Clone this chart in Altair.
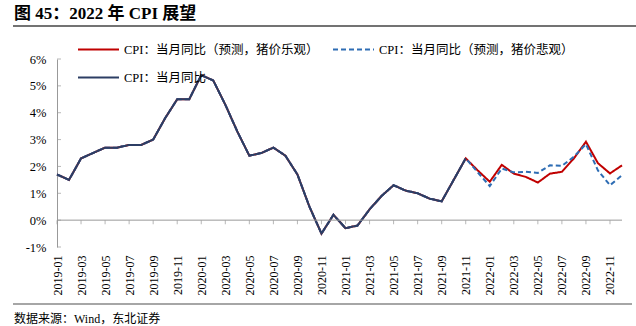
import altair as alt
import pandas as pd

months = [f"{y}-{m:02d}" for y in range(2019, 2023) for m in range(1, 13)]
tick_months = months[::2]

actual = [1.7, 1.5, 2.3, 2.5, 2.7, 2.7, 2.8, 2.8, 3.0, 3.8, 4.5, 4.5,
          5.4, 5.2, 4.3, 3.3, 2.4, 2.5, 2.7, 2.4, 1.7, 0.5, -0.5, 0.2,
          -0.3, -0.2, 0.4, 0.9, 1.3, 1.1, 1.0, 0.8, 0.7, 1.5, 2.3]
optimistic = [1.85, 1.43, 2.06, 1.73, 1.61, 1.40, 1.73, 1.80, 2.30, 2.92, 2.12, 1.74, 2.04]
pessimistic = [1.78, 1.27, 1.92, 1.78, 1.80, 1.76, 2.04, 2.02, 2.36, 2.83, 1.85, 1.30, 1.67]

s_opt = "CPI：当月同比（预测，猪价乐观）"
s_pes = "CPI：当月同比（预测，猪价悲观）"
s_act = "CPI：当月同比"
series_names = [s_opt, s_pes, s_act]
series_colors = ["#C00000", "#2E6DB4", "#2C3E64"]
series_dash = [[1, 0], [5, 3], [1, 0]]

y_values = [-1, 0, 1, 2, 3, 4, 5, 6]

title_text = "图 45：2022 年 CPI 展望"
source_text = "数据来源：Wind，东北证券"

FONT = "Liberation Serif, Noto Sans CJK SC"

rows = []
for name, tail in [(s_opt, optimistic), (s_pes, pessimistic), (s_act, [])]:
    vals = actual + tail
    for m, v in zip(months, vals):
        rows.append({"month": m, "value": v, "series": name})
df = pd.DataFrame(rows)

x_scale = alt.Scale(type="point", padding=0, domain=months)
y_scale = alt.Scale(domain=[-1, 6], nice=False)

legend = alt.Legend(
    title=None, orient="none", legendX=20, legendY=-31, columns=2, direction="horizontal",
    symbolType="stroke", symbolSize=1681, symbolStrokeWidth=2,
    labelFont=FONT, labelFontSize=12.5, labelColor="#000", labelOffset=4, labelLimit=400,
    columnPadding=10, rowPadding=-17,
)

x_axis = alt.Axis(values=tick_months, labelAngle=-90, domain=False, ticks=False,
                  labelPadding=8, title=None, labelFont=FONT, labelFontSize=12,
                  labelColor="#000", grid=False, labelOverlap=False)
y_axis = alt.Axis(values=y_values, labelExpr="datum.value + '%'", ticks=False,
                  grid=False, domainColor="#999", labelFont=FONT, labelFontSize=12.5,
                  labelColor="#000", labelPadding=11, title=None, labelOverlap=False)

enc = dict(
    x=alt.X("month:O", scale=x_scale, sort=months, axis=x_axis),
    y=alt.Y("value:Q", scale=y_scale, axis=y_axis),
    color=alt.Color("series:N", scale=alt.Scale(domain=series_names, range=series_colors),
                    legend=legend),
    strokeDash=alt.StrokeDash("series:N", scale=alt.Scale(domain=series_names, range=series_dash),
                              legend=legend),
)

base = alt.Chart(df)
lines = [
    base.transform_filter(alt.datum.series == n).mark_line(strokeWidth=2).encode(**enc)
    for n in series_names
]

zero = alt.Chart(pd.DataFrame({"z": [0]})).mark_rule(color="#999", strokeWidth=1).encode(
    y=alt.Y("z:Q", scale=y_scale, axis=y_axis))

xt = alt.Chart(pd.DataFrame({"month": tick_months, "z": [0] * len(tick_months)})).mark_tick(
    orient="vertical", size=4, thickness=1, yOffset=2, color="#999").encode(
    x=alt.X("month:O", scale=x_scale, sort=months, axis=x_axis),
    y=alt.Y("z:Q", scale=y_scale, axis=y_axis))

yt = alt.Chart(pd.DataFrame({"month": ["2019-01"] * len(y_values), "v": y_values})).mark_tick(
    orient="horizontal", size=4, thickness=1, xOffset=2, color="#999").encode(
    x=alt.X("month:O", scale=x_scale, sort=months, axis=x_axis),
    y=alt.Y("v:Q", scale=y_scale, axis=y_axis))

title = alt.Chart(pd.DataFrame({"t": [title_text]})).mark_text(
    font=FONT, fontSize=17, fontWeight="bold", align="left", baseline="alphabetic", color="#000").encode(
    text="t:N", x=alt.value(-43), y=alt.value(-40))

source = alt.Chart(pd.DataFrame({"t": [source_text]})).mark_text(
    font=FONT, fontSize=12, align="left", baseline="alphabetic", color="#000").encode(
    text="t:N", x=alt.value(-43), y=alt.value(264))

rule_top = alt.Chart(pd.DataFrame({"a": [0]})).mark_rule(color="#444", strokeWidth=1.5).encode(
    x=alt.value(-44), x2=alt.value(579), y=alt.value(-33))
rule_bot = alt.Chart(pd.DataFrame({"a": [0]})).mark_rule(color="#888", strokeWidth=1.5).encode(
    x=alt.value(-44), x2=alt.value(575), y=alt.value(245))

chart = alt.layer(*lines, zero, xt, yt, title, source, rule_top, rule_bot).properties(
    width=565, height=188,
    autosize=alt.AutoSizeParams(type="none"),
    padding={"left": 57, "top": 59, "right": 14, "bottom": 79},
).configure_view(stroke=None)

chart.save("out.html", embed_options={"renderer": "svg", "actions": False})
